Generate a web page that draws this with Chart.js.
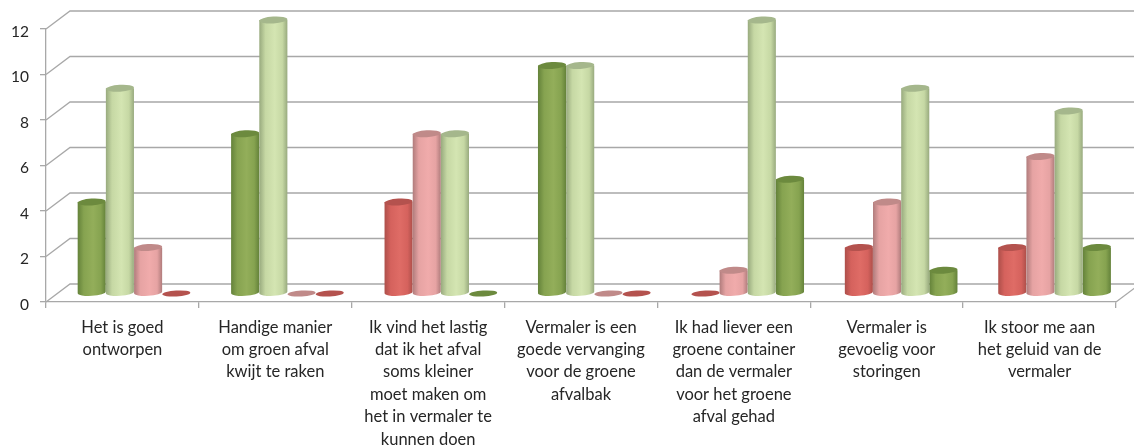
<!DOCTYPE html>
<html>
<head>
<meta charset="utf-8">
<title>Vermaler</title>
<script src="https://cdn.jsdelivr.net/npm/chart.js@4"></script>
<style>
  html, body { margin: 0; padding: 0; background: #fff; }
  canvas { display: block; }
</style>
</head>
<body>
<canvas id="chart" width="1134" height="446"></canvas>
<script>
const categories = [
  ["Het is goed", "ontworpen"],
  ["Handige manier", "om groen afval", "kwijt te raken"],
  ["Ik vind het lastig", "dat ik het afval", "soms kleiner", "moet maken om", "het in vermaler te", "kunnen doen"],
  ["Vermaler is een", "goede vervanging", "voor de groene", "afvalbak"],
  ["Ik had liever een", "groene container", "dan de vermaler", "voor het groene", "afval gehad"],
  ["Vermaler is", "gevoelig voor", "storingen"],
  ["Ik stoor me aan", "het geluid van de", "vermaler"]
];

// one array per slot in the cluster, left to right
const firstBar  = [4, 7, 4, 10, 0, 2, 2];
const secondBar = [9, 12, 7, 10, 1, 4, 6];
const thirdBar  = [2, 0, 7, 0, 12, 9, 8];
const fourthBar = [0, 0, 0, 0, 5, 1, 2];

const yTicks = [0, 2, 4, 6, 8, 10, 12];

const shades = {
  green: { edge: "#64823a", mid: "#86a350", center: "#93ae5a", cap: "#6c8a3e" },
  lime:  { edge: "#98aa7e", mid: "#c6d8a4", center: "#d4e5b2", cap: "#a5b78c" },
  pink:  { edge: "#b07c7c", mid: "#e6a3a3", center: "#f0abab", cap: "#c08a89" },
  red:   { edge: "#ad4f4a", mid: "#d5625d", center: "#df6c66", cap: "#b4524e" }
};

const firstShades  = ["green", "green", "red", "green", "red", "red", "red"];
const secondShades = ["lime", "lime", "pink", "lime", "pink", "pink", "pink"];
const thirdShades  = ["pink", "pink", "lime", "pink", "lime", "lime", "lime"];
const fourthShades = ["red", "red", "green", "red", "green", "green", "green"];

// how far the back wall sits from the front edge of the floor
const DEPTH_X = 24;
const DEPTH_Y = 18;
const GRID = "#a8a8a8";
const TILT = -0.06;

function capEllipse(ctx, x, y, rx, ry) {
  ctx.beginPath();
  ctx.ellipse(x, y, rx, ry, TILT, 0, Math.PI * 2);
  ctx.fill();
}

function drawCylinder(ctx, bar, shade, xScale) {
  const rx = bar.width / 2;
  const ry = 3.5;
  // the bars drift a little further right of their labels towards the far end
  const drift = 4 * (bar.x - xScale.left) / xScale.width;
  const cx = bar.x + DEPTH_X / 2 - 0.7 + drift;
  const base = bar.base - DEPTH_Y / 2;
  const top = bar.y - DEPTH_Y / 2;

  if (base - top < 0.5) {
    ctx.fillStyle = shade.cap;
    capEllipse(ctx, cx, base + 0.5, rx, ry - 0.5);
    return;
  }

  const grad = ctx.createLinearGradient(cx - rx, 0, cx + rx, 0);
  grad.addColorStop(0, shade.edge);
  grad.addColorStop(0.22, shade.mid);
  grad.addColorStop(0.55, shade.center);
  grad.addColorStop(0.82, shade.mid);
  grad.addColorStop(1, shade.edge);

  ctx.fillStyle = grad;
  ctx.beginPath();
  ctx.moveTo(cx - rx, top);
  ctx.lineTo(cx - rx, base);
  ctx.ellipse(cx, base, rx, ry, TILT, Math.PI, 0, true);
  ctx.lineTo(cx + rx, top);
  ctx.closePath();
  ctx.fill();

  ctx.fillStyle = shade.cap;
  capEllipse(ctx, cx, top, rx, ry);
}

const depthWalls = {
  id: "depthWalls",
  beforeDatasetsDraw(chart) {
    const { ctx, scales: { x, y } } = chart;
    ctx.save();
    ctx.strokeStyle = GRID;
    ctx.lineWidth = 1.3;
    yTicks.forEach(v => {
      const py = y.getPixelForValue(v);
      ctx.beginPath();
      ctx.moveTo(x.left, py);
      ctx.lineTo(x.left + DEPTH_X, py - DEPTH_Y);
      ctx.lineTo(chart.width + 10, py - DEPTH_Y);
      ctx.stroke();
    });
    // right side of the floor
    ctx.beginPath();
    ctx.moveTo(x.right, y.bottom);
    ctx.lineTo(x.right + DEPTH_X, y.bottom - DEPTH_Y);
    ctx.stroke();
    ctx.restore();
  },
  // the cylinders replace the flat bars, painted left to right
  beforeDatasetDraw() {
    return false;
  },
  afterDatasetsDraw(chart) {
    const { ctx } = chart;
    ctx.save();
    chart.data.labels.forEach((_, i) => {
      chart.data.datasets.forEach((ds, d) => {
        const bar = chart.getDatasetMeta(d).data[i];
        drawCylinder(ctx, bar, shades[ds.shadeNames[i]], chart.scales.x);
      });
    });
    ctx.restore();
  }
};

new Chart(document.getElementById("chart"), {
  type: "bar",
  data: {
    labels: categories,
    datasets: [
      { data: firstBar, shadeNames: firstShades },
      { data: secondBar, shadeNames: secondShades },
      { data: thirdBar, shadeNames: thirdShades },
      { data: fourthBar, shadeNames: fourthShades }
    ]
  },
  options: {
    responsive: false,
    animation: false,
    layout: { padding: { top: 29, right: 18, left: 0, bottom: 0 } },
    categoryPercentage: 0.735,
    barPercentage: 1,
    plugins: { legend: { display: false }, tooltip: { enabled: false } },
    scales: {
      x: {
        grid: { drawOnChartArea: false, color: GRID, lineWidth: 1.3, tickLength: 6 },
        border: { color: GRID, width: 1.3 },
        ticks: {
          maxRotation: 0,
          autoSkip: false,
          padding: 8,
          color: "#262626",
          font: { family: "Lato", size: 16.5, lineHeight: 1.36 }
        },
        afterFit: s => { s.height = 144; }
      },
      y: {
        min: 0,
        max: 12,
        grid: { drawOnChartArea: false, color: GRID, lineWidth: 1.3, tickLength: 6 },
        border: { color: GRID, width: 1.3 },
        ticks: {
          stepSize: 2,
          padding: 11,
          labelOffset: 2.5,
          color: "#262626",
          font: { family: "Lato", size: 15.5 }
        },
        afterFit: s => { s.width = 46; }
      }
    }
  },
  plugins: [depthWalls]
});
</script>
</body>
</html>
